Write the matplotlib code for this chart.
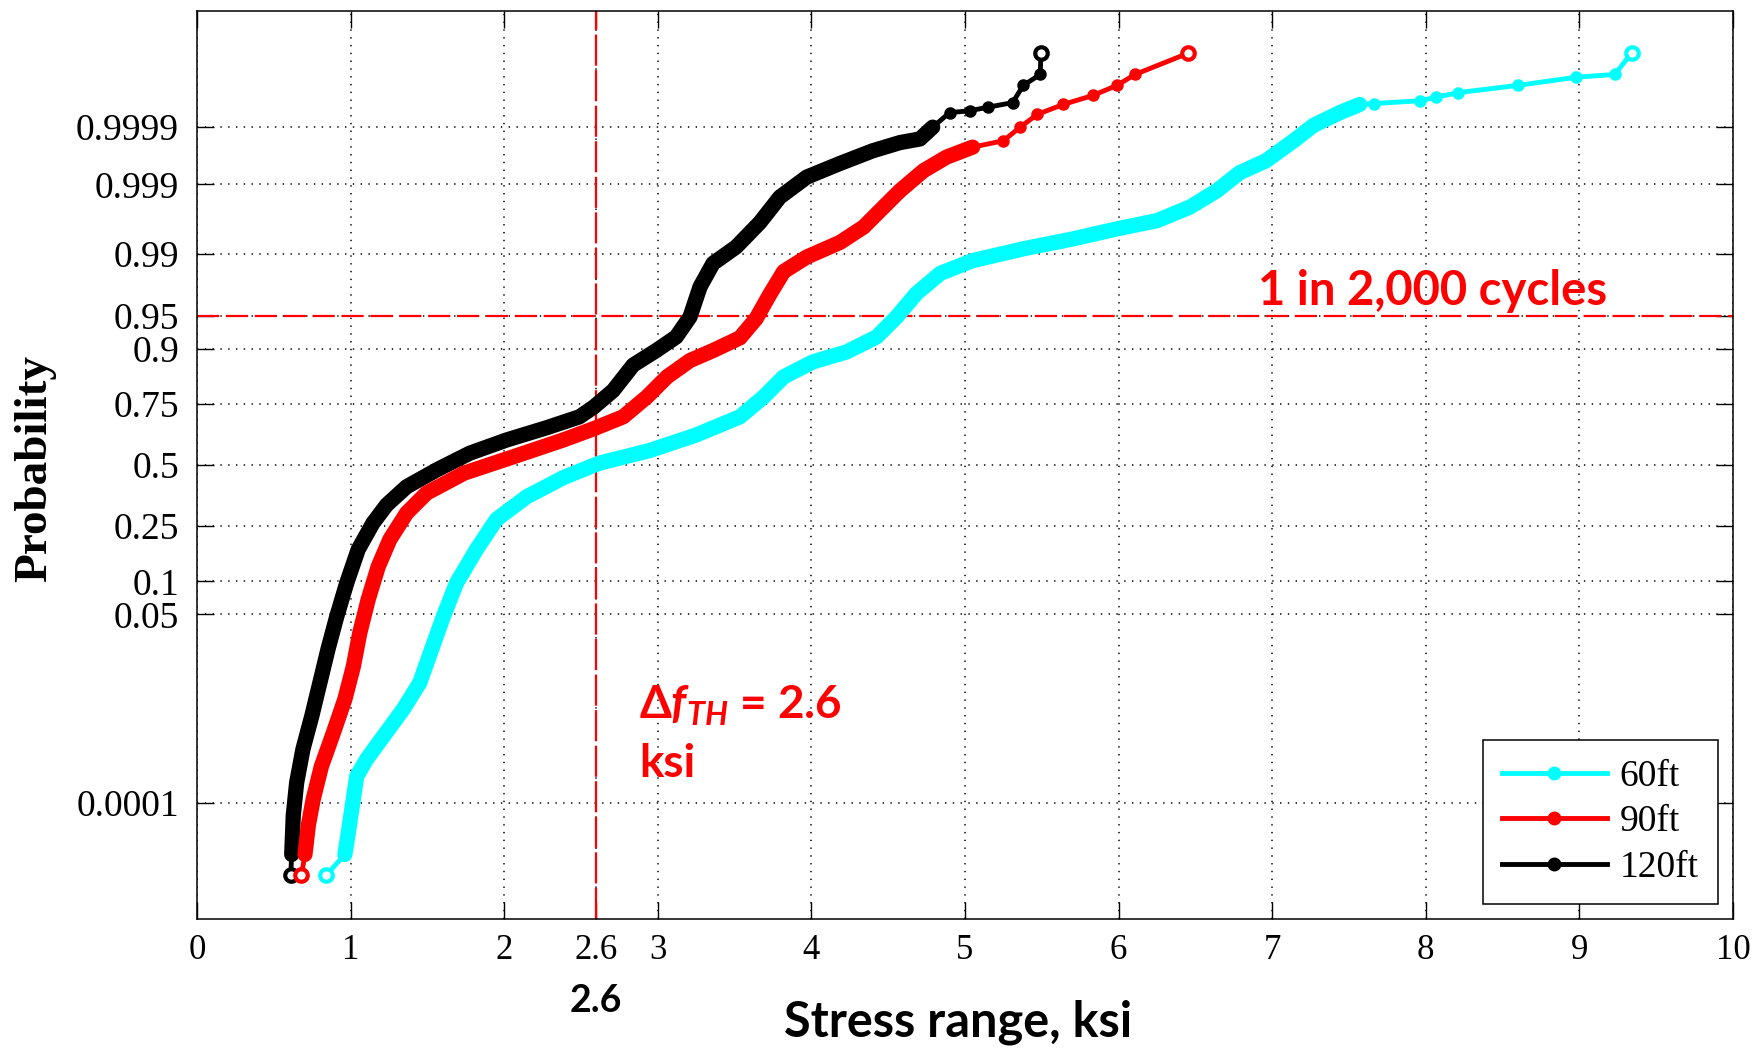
import numpy as np
import matplotlib
matplotlib.use("Agg")
import matplotlib.pyplot as plt
from matplotlib.lines import Line2D
from statistics import NormalDist

plt.rcParams["mathtext.fontset"] = "custom"
plt.rcParams["mathtext.rm"] = "Lato:bold"
plt.rcParams["mathtext.it"] = "Lato:italic:bold"
plt.rcParams["mathtext.bf"] = "Lato:bold"

SERIF = "Liberation Serif"
SANS = "Lato"

# ---- data: stress range (ksi) vs standard normal quantile of the probability ----
x_60 = [0.84, 0.963, 0.985, 1.018, 1.04, 1.105, 1.213, 1.343, 1.45, 1.528, 1.604,
        1.69, 1.82, 1.95, 2.147, 2.385, 2.62, 2.95, 3.25, 3.535, 3.69, 3.82, 4.01,
        4.23, 4.425, 4.555, 4.685, 4.84, 5.05, 5.38, 5.705, 5.99, 6.25, 6.465, 6.64,
        6.79, 6.96, 7.14, 7.27, 7.44, 7.57, 7.66, 7.96, 8.07, 8.21, 8.60, 8.98, 9.23,
        9.34]
z_60 = [-4.52, -4.29, -4.05, -3.68, -3.43, -3.24, -2.99, -2.69, -2.40, -2.03, -1.67,
        -1.30, -0.93, -0.60, -0.35, -0.14, 0.02, 0.16, 0.33, 0.53, 0.75, 0.97, 1.135,
        1.245, 1.41, 1.63, 1.89, 2.11, 2.25, 2.38, 2.49, 2.60, 2.69, 2.84, 3.02,
        3.22, 3.35, 3.57, 3.74, 3.88, 3.97, 3.98, 4.01, 4.05, 4.10, 4.18, 4.27, 4.30,
        4.535]

x_90 = [0.68, 0.703, 0.725, 0.757, 0.81, 0.888, 0.963, 1.018, 1.06, 1.115, 1.18,
        1.256, 1.365, 1.495, 1.74, 2.06, 2.385, 2.585, 2.775, 2.93, 3.06, 3.21, 3.36,
        3.535, 3.64, 3.73, 3.82, 3.97, 4.186, 4.34, 4.47, 4.577, 4.73, 4.88, 5.05,
        5.25, 5.36, 5.47, 5.64, 5.835, 5.99, 6.107, 6.454]
z_90 = [-4.52, -4.29, -3.97, -3.68, -3.32, -2.95, -2.58, -2.22, -1.85, -1.48, -1.12,
        -0.82, -0.53, -0.31, -0.09, 0.09, 0.275, 0.40, 0.53, 0.75, 0.97, 1.15, 1.26,
        1.40, 1.61, 1.88, 2.13, 2.29, 2.45, 2.62, 2.84, 3.02, 3.24, 3.39, 3.50,
        3.57, 3.72, 3.86, 3.97, 4.07, 4.18, 4.30, 4.535]

x_120 = [0.61, 0.617, 0.627, 0.649, 0.69, 0.747, 0.80, 0.853, 0.91, 0.975, 1.05,
         1.146, 1.235, 1.365, 1.56, 1.777, 2.016, 2.277, 2.49, 2.585, 2.71, 2.84,
         2.99, 3.12, 3.21, 3.275, 3.36, 3.51, 3.665, 3.795, 3.97, 4.186, 4.40, 4.577,
         4.707, 4.79, 4.90, 5.03, 5.15, 5.31, 5.38, 5.49, 5.495]
z_120 = [-4.52, -4.29, -3.86, -3.50, -3.13, -2.77, -2.40, -2.03, -1.67, -1.30, -0.93,
         -0.64, -0.44, -0.24, -0.055, 0.13, 0.275, 0.41, 0.53, 0.64, 0.82, 1.10,
         1.26, 1.41, 1.63, 1.96, 2.22, 2.40, 2.67, 2.95, 3.17, 3.32, 3.46, 3.55,
         3.59, 3.72, 3.88, 3.90, 3.94, 3.99, 4.18, 4.30, 4.54]

series_names = ["60ft", "90ft", "120ft"]
series_colors = ["cyan", "red", "black"]

prob_ticks = [0.0001, 0.05, 0.1, 0.25, 0.5, 0.75, 0.9, 0.95, 0.99, 0.999, 0.9999]
prob_labels = ["0.0001", "0.05", "0.1", "0.25", "0.5", "0.75", "0.9", "0.95",
               "0.99", "0.999", "0.9999"]
x_ticks = [0, 1, 2, 2.6, 3, 4, 5, 6, 7, 8, 9, 10]
x_tick_labels = ["0", "1", "2", "2.6", "3", "4", "5", "6", "7", "8", "9", "10"]

threshold = 2.6
cycle_prob = 0.95

nd = NormalDist()
y_tick_pos = [nd.inv_cdf(p) for p in prob_ticks]
z_cycle = nd.inv_cdf(cycle_prob)

fig = plt.figure(figsize=(17.57, 10.5), dpi=100)
ax = fig.add_axes([0.1121, 0.1248, 0.8742, 0.8648])


def draw_series(x, z, color, n_tail, zorder):
    x = np.asarray(x)
    z = np.asarray(z)
    body = slice(1, len(x) - n_tail + 1)
    ax.plot(x, z, color=color, lw=3.5, marker="o", ms=8, zorder=zorder)
    ax.plot(x[body], z[body], color=color, lw=11, solid_capstyle="round",
            solid_joinstyle="round", zorder=zorder)
    ax.plot(x[[0, -1]], z[[0, -1]], ls="none", marker="o", ms=9, mfc="white",
            mec=color, mew=3, zorder=zorder)


draw_series(x_120, z_120, "black", 8, 3)
draw_series(x_90, z_90, "red", 9, 4)
draw_series(x_60, z_60, "cyan", 9, 5)

# reference lines
ax.axvline(threshold, color="red", lw=1.6, ls=(0, (14, 2)), zorder=2.5)
ax.axhline(z_cycle, color="red", lw=1.6, ls=(0, (10, 3)), zorder=2.5)

ax.set_xlim(0, 10)
ax.set_ylim(-5, 5)
ax.set_xticks(x_ticks)
ax.set_xticklabels(x_tick_labels, fontfamily=SERIF, fontsize=25)
ax.set_yticks(y_tick_pos)
ax.set_yticklabels(prob_labels, fontfamily=SERIF, fontsize=27)
ax.tick_params(direction="in", length=12, width=1, top=True, right=True)
ax.tick_params(axis="x", pad=11)
ax.tick_params(axis="y", pad=13)
for sp in ax.spines.values():
    sp.set_linewidth(1.1)

ax.set_axisbelow(True)
ax.grid(True, color="black", lw=1.1, ls=(0, (0.9, 4.2)))

# annotations
ax.text(6.91, 1.76, "1 in 2,000 cycles", color="red", fontsize=34,
        fontweight="bold", family=SANS, ha="left", va="baseline", zorder=6)
ax.text(2.88, -2.80, r"$\Delta f_{TH}$ = 2.6", color="red", fontsize=33,
        fontweight="bold", family=SANS, ha="left", va="baseline", zorder=6)
ax.text(2.88, -3.44, "ksi", color="red", fontsize=33,
        fontweight="bold", family=SANS, ha="left", va="baseline", zorder=6)

ax.text(threshold, -0.1024, "2.6", transform=ax.get_xaxis_transform(),
        ha="center", va="baseline", fontsize=27, fontweight="bold", family=SANS)
ax.text(0.4955, -0.129, "Stress range, ksi", transform=ax.transAxes,
        ha="center", va="baseline", fontsize=35, fontweight="bold", family=SANS)
fig.text(0.02, 0.554, "Probability", rotation=90, ha="center", va="center",
         fontsize=34, fontweight="bold", family=SERIF)

handles = [Line2D([], [], color=c, lw=3.5, marker="o", ms=9) for c in series_colors]
leg = ax.legend(handles, series_names, loc="lower right",
                bbox_to_anchor=(0.990, 0.0165), borderaxespad=0,
                prop={"family": SERIF, "size": 27}, fancybox=False,
                edgecolor="black", framealpha=1, handlelength=2.8,
                handletextpad=0.35, labelspacing=0.3, borderpad=0.5)
leg.get_frame().set_linewidth(1.1)
leg.set_zorder(10)

fig.savefig("out.png", dpi=100)
